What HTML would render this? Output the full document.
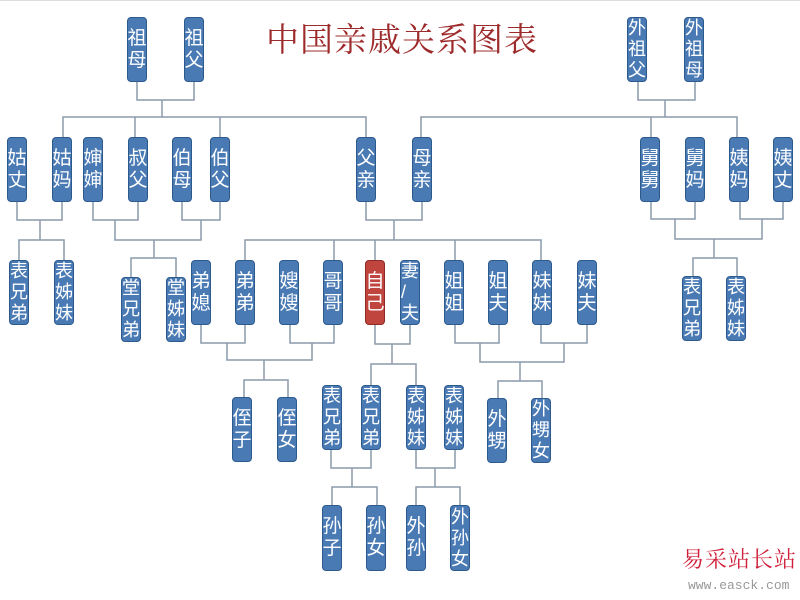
<!DOCTYPE html>
<html><head><meta charset="utf-8"><style>
html,body{margin:0;padding:0;background:#fff;}
#c{position:relative;width:800px;height:600px;overflow:hidden;background:#fff;}
.b{position:absolute;width:20px;background:#4a7ab4;border:1px solid #2d5a8c;border-radius:4px;color:#fff;font-family:"Liberation Sans","Noto Sans CJK SC",sans-serif;font-size:19px;line-height:22px;display:flex;flex-direction:column;align-items:center;justify-content:center;box-sizing:border-box;overflow:hidden;}
.b.t{line-height:21px;font-size:18px;}
.r{background:#c0453e;border-color:#8e2a25;}
svg{position:absolute;left:0;top:0;}
</style></head><body><div id="c">
<div style="position:absolute;left:0;top:0;width:800px;height:1px;background:#ddd"></div>
<svg width="800" height="600"><g stroke="#8c9aab" stroke-width="1.5" fill="none">
<!-- paternal grandparents -->
<polyline points="137,81 137,100 194,100 194,81"/><line x1="162" y1="100" x2="162" y2="117"/>
<polyline points="63,137 63,117 366,117 366,137"/><line x1="135" y1="117" x2="135" y2="137"/><line x1="220" y1="117" x2="220" y2="137"/>
<!-- maternal grandparents -->
<polyline points="638,81 638,100 695,100 695,81"/><line x1="665" y1="100" x2="665" y2="117"/>
<polyline points="421,137 421,117 737,117 737,137"/><line x1="651" y1="117" x2="651" y2="137"/>
<!-- 姑 -->
<polyline points="17,202 17,220 62,220 62,202"/><line x1="40" y1="220" x2="40" y2="240"/>
<polyline points="19,260 19,240 64,240 64,260"/>
<!-- 叔伯 -->
<polyline points="93,202 93,220 138,220 138,202"/><polyline points="182,202 182,220 220,220 220,202"/>
<polyline points="115,220 115,240 201,240 201,220"/><line x1="154" y1="240" x2="154" y2="258"/>
<polyline points="131,277 131,258 176,258 176,277"/>
<!-- parents -->
<polyline points="366,202 366,220 422,220 422,202"/><line x1="394" y1="220" x2="394" y2="240"/>
<polyline points="245,260 245,240 541,240 541,260"/><line x1="334" y1="240" x2="334" y2="260"/><line x1="375" y1="240" x2="375" y2="260"/><line x1="455" y1="240" x2="455" y2="260"/>
<!-- 舅姨 -->
<polyline points="651,202 651,219 695,219 695,202"/><polyline points="740,202 740,219 783,219 783,202"/>
<polyline points="675,219 675,239 762,239 762,219"/><line x1="714" y1="239" x2="714" y2="258"/>
<polyline points="693,276 693,258 737,258 737,276"/>
<!-- 弟/哥 -->
<polyline points="201,325 201,343 245,343 245,325"/><polyline points="290,325 290,343 334,343 334,325"/>
<polyline points="227,343 227,360 312,360 312,343"/><line x1="264" y1="360" x2="264" y2="380"/>
<polyline points="244,397 244,380 288,380 288,397"/>
<!-- self -->
<polyline points="375,325 375,344 410,344 410,325"/><line x1="392" y1="344" x2="392" y2="364"/>
<polyline points="371,385 371,364 416,364 416,385"/>
<!-- 姐妹 -->
<polyline points="455,325 455,343 499,343 499,325"/><polyline points="541,325 541,343 587,343 587,325"/>
<polyline points="480,343 480,362 564,362 564,343"/><line x1="520" y1="362" x2="520" y2="381"/>
<polyline points="498,398 498,381 542,381 542,398"/>
<!-- grandchildren -->
<polyline points="331,450 331,468 371,468 371,450"/><line x1="352" y1="468" x2="352" y2="487"/>
<polyline points="332,505 332,487 377,487 377,505"/>
<polyline points="416,450 416,468 455,468 455,450"/><line x1="435" y1="468" x2="435" y2="487"/>
<polyline points="416,505 416,487 460,487 460,505"/>
</g></svg>
<div style="position:absolute;left:266px;top:14px;font-family:'Noto Serif CJK SC','Noto Sans CJK SC',serif;font-size:33px;color:#9e2b2b;letter-spacing:1px;white-space:nowrap;">中国亲戚关系图表</div>

<div class="b" style="left:127px;top:17px;height:65px">祖<br>母</div>
<div class="b" style="left:184px;top:17px;height:65px">祖<br>父</div>
<div class="b t" style="left:627px;top:17px;height:65px">外<br>祖<br>父</div>
<div class="b t" style="left:684px;top:17px;height:65px">外<br>祖<br>母</div>

<div class="b" style="left:7px;top:137px;height:65px">姑<br>丈</div>
<div class="b" style="left:52px;top:137px;height:65px">姑<br>妈</div>
<div class="b" style="left:83px;top:137px;height:65px">婶<br>婶</div>
<div class="b" style="left:128px;top:137px;height:65px">叔<br>父</div>
<div class="b" style="left:172px;top:137px;height:65px">伯<br>母</div>
<div class="b" style="left:210px;top:137px;height:65px">伯<br>父</div>
<div class="b" style="left:356px;top:137px;height:65px">父<br>亲</div>
<div class="b" style="left:412px;top:137px;height:65px">母<br>亲</div>
<div class="b" style="left:640px;top:137px;height:65px">舅<br>舅</div>
<div class="b" style="left:685px;top:137px;height:65px">舅<br>妈</div>
<div class="b" style="left:729px;top:137px;height:65px">姨<br>妈</div>
<div class="b" style="left:773px;top:137px;height:65px">姨<br>丈</div>

<div class="b t" style="left:9px;top:260px;height:65px">表<br>兄<br>弟</div>
<div class="b t" style="left:54px;top:260px;height:65px">表<br>姊<br>妹</div>
<div class="b t" style="left:121px;top:277px;height:65px">堂<br>兄<br>弟</div>
<div class="b t" style="left:166px;top:277px;height:65px">堂<br>姊<br>妹</div>
<div class="b" style="left:191px;top:260px;height:65px">弟<br>媳</div>
<div class="b" style="left:235px;top:260px;height:65px">弟<br>弟</div>
<div class="b" style="left:279px;top:260px;height:65px">嫂<br>嫂</div>
<div class="b" style="left:323px;top:260px;height:65px">哥<br>哥</div>
<div class="b r" style="left:365px;top:260px;height:65px">自<br>己</div>
<div class="b t" style="left:400px;top:260px;height:65px">妻<br>/<br>夫</div>
<div class="b" style="left:444px;top:260px;height:65px">姐<br>姐</div>
<div class="b" style="left:488px;top:260px;height:65px">姐<br>夫</div>
<div class="b" style="left:532px;top:260px;height:65px">妹<br>妹</div>
<div class="b" style="left:577px;top:260px;height:65px">妹<br>夫</div>
<div class="b t" style="left:682px;top:276px;height:65px">表<br>兄<br>弟</div>
<div class="b t" style="left:726px;top:276px;height:65px">表<br>姊<br>妹</div>

<div class="b" style="left:232px;top:397px;height:65px">侄<br>子</div>
<div class="b" style="left:277px;top:397px;height:65px">侄<br>女</div>
<div class="b t" style="left:322px;top:385px;height:65px">表<br>兄<br>弟</div>
<div class="b t" style="left:361px;top:385px;height:65px">表<br>兄<br>弟</div>
<div class="b t" style="left:406px;top:385px;height:65px">表<br>姊<br>妹</div>
<div class="b t" style="left:444px;top:385px;height:65px">表<br>姊<br>妹</div>
<div class="b" style="left:487px;top:398px;height:65px">外<br>甥</div>
<div class="b t" style="left:531px;top:398px;height:65px">外<br>甥<br>女</div>

<div class="b" style="left:322px;top:505px;height:66px">孙<br>子</div>
<div class="b" style="left:366px;top:505px;height:66px">孙<br>女</div>
<div class="b" style="left:406px;top:505px;height:66px">外<br>孙</div>
<div class="b t" style="left:450px;top:505px;height:66px">外<br>孙<br>女</div>

<div style="position:absolute;left:682px;top:543px;font-family:'Noto Serif CJK SC',serif;font-size:22px;color:#d0203a;letter-spacing:1px;white-space:nowrap;">易采站长站</div>
<div style="position:absolute;left:688px;top:578px;font-family:'Liberation Mono',monospace;font-size:13px;color:#999;white-space:nowrap;">www.easck.com</div>
</div></body></html>
